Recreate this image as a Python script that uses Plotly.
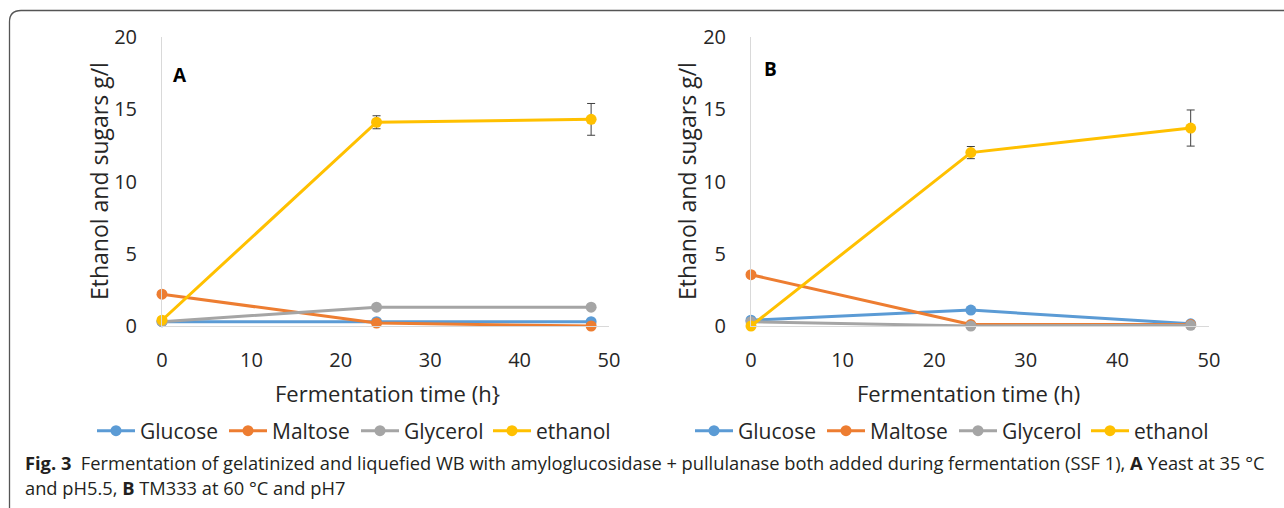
import plotly.graph_objects as go

W, H = 1284, 508

time_h = [0, 24, 48]
x_ticks = [0, 10, 20, 30, 40, 50]
y_ticks = [0, 5, 10, 15, 20]
series_names = ["Glucose", "Maltose", "Glycerol", "ethanol"]
series_colors = ["#5B9BD5", "#ED7D31", "#A5A5A5", "#FFC000"]

# Panel A: Yeast at 35 °C, pH5.5
a_glucose = [0.3, 0.3, 0.3]
a_maltose = [2.2, 0.2, 0.0]
a_glycerol = [0.3, 1.3, 1.3]
a_ethanol = [0.4, 14.1, 14.3]
a_ethanol_err = [0.0, 0.45, 1.1]

# Panel B: TM333 at 60 °C, pH7
b_glucose = [0.4, 1.1, 0.15]
b_maltose = [3.55, 0.1, 0.1]
b_glycerol = [0.3, 0.0, 0.05]
b_ethanol = [0.0, 12.0, 13.7]
b_ethanol_err = [0.0, 0.42, 1.25]

CHART_FONT = "Open Sans"
CAP_FONT = "Open Sans"


def px(x):
    return x / W


def py(y):
    return 1 - y / H


fig = go.Figure()

panels = [
    ("x", "y", "legend", [a_glucose, a_maltose, a_glycerol, a_ethanol], a_ethanol_err),
    ("x2", "y2", "legend2", [b_glucose, b_maltose, b_glycerol, b_ethanol], b_ethanol_err),
]
for xa, ya, leg, vals, err in panels:
    for name, color, v in zip(series_names, series_colors, vals):
        kw = {}
        if name == "ethanol":
            kw["error_y"] = dict(type="data", array=err, visible=True,
                                 color="#404040", thickness=1, width=4)
        fig.add_trace(go.Scatter(
            x=time_h, y=v, name=name, mode="lines+markers",
            line=dict(color=color, width=3),
            marker=dict(color=color, size=11),
            xaxis=xa, yaxis=ya, legend=leg, cliponaxis=False, **kw))

axis_common = dict(showline=True, linecolor="#D9D9D9", linewidth=1,
                   showgrid=False, zeroline=False, ticks="",
                   tickfont=dict(family=CHART_FONT, size=20, color="#262626"),
                   automargin=False)

x_dom_a = [px(162), px(609)]
x_dom_b = [px(751), px(1209)]
y_dom = [py(326), py(37)]

legend_common = dict(orientation="h", y=py(431), xanchor="left", yanchor="middle",
                     font=dict(family=CHART_FONT, size=21, color="#262626"),
                     bgcolor="rgba(0,0,0,0)", traceorder="normal",
                     itemwidth=38, entrywidth=79, entrywidthmode="pixels")

fig.update_layout(
    width=W, height=H,
    margin=dict(l=0, r=0, t=0, b=0),
    paper_bgcolor="white", plot_bgcolor="white",
    xaxis=dict(domain=x_dom_a, range=[0, 50], tickvals=x_ticks, anchor="y",
               ticklabelstandoff=16, **axis_common),
    yaxis=dict(domain=y_dom, range=[0, 20], tickvals=y_ticks, anchor="x",
               ticklabelstandoff=20, **axis_common),
    xaxis2=dict(domain=x_dom_b, range=[0, 50], tickvals=x_ticks, anchor="y2",
                ticklabelstandoff=16, **axis_common),
    yaxis2=dict(domain=y_dom, range=[0, 20], tickvals=y_ticks, anchor="x2",
                ticklabelstandoff=20, **axis_common),
    legend=dict(x=px(92), **legend_common),
    legend2=dict(x=px(690), **legend_common),
    showlegend=True,
)

ann = []
ytitle_font = dict(family=CHART_FONT, size=23, color="#262626")
xtitle_font = dict(family=CHART_FONT, size=22, color="#262626")
ann.append(dict(text="Ethanol and sugars g/l", x=px(99), y=py(181), xref="paper", yref="paper",
                textangle=-90, showarrow=False, font=ytitle_font, xanchor="center", yanchor="middle"))
ann.append(dict(text="Ethanol and sugars g/l", x=px(687), y=py(181), xref="paper", yref="paper",
                textangle=-90, showarrow=False, font=ytitle_font, xanchor="center", yanchor="middle"))
ann.append(dict(text="Fermentation time (h}", x=px(387), y=py(393), xref="paper", yref="paper",
                showarrow=False, font=xtitle_font, xanchor="center", yanchor="middle"))
ann.append(dict(text="Fermentation time (h)", x=px(968), y=py(393), xref="paper", yref="paper",
                showarrow=False, font=xtitle_font, xanchor="center", yanchor="middle"))
ann.append(dict(text="<b>A</b>", x=px(180), y=py(75), xref="paper", yref="paper",
                showarrow=False, font=dict(family=CHART_FONT, size=19, color="black"),
                xanchor="center", yanchor="middle"))
ann.append(dict(text="<b>B</b>", x=px(770), y=py(69), xref="paper", yref="paper",
                showarrow=False, font=dict(family=CHART_FONT, size=19, color="black"),
                xanchor="center", yanchor="middle"))
cap_font = dict(family=CAP_FONT, size=18.3, color="#231F20")
ann.append(dict(text="<b>Fig. 3</b>  Fermentation of gelatinized and liquefied WB with amyloglucosidase + pullulanase "
                     "both added during fermentation (SSF 1), <b>A</b> Yeast at 35 °C",
                x=px(23), y=py(462), xref="paper", yref="paper", showarrow=False,
                font=cap_font, xanchor="left", yanchor="middle"))
ann.append(dict(text="and pH5.5, <b>B</b> TM333 at 60 °C and pH7",
                x=px(23), y=py(487), xref="paper", yref="paper", showarrow=False,
                font=cap_font, xanchor="left", yanchor="middle"))
fig.update_layout(annotations=ann)

# rounded figure frame (top-left corner)
fig.add_shape(type="path", xref="paper", yref="paper",
              path=f"M {px(1290)},{py(10.5)} L {px(21)},{py(10.5)} "
                   f"Q {px(9.5)},{py(10.5)} {px(9.5)},{py(22)} L {px(9.5)},{py(512)}",
              line=dict(color="#555555", width=1.3))

fig.write_html("out.html")
